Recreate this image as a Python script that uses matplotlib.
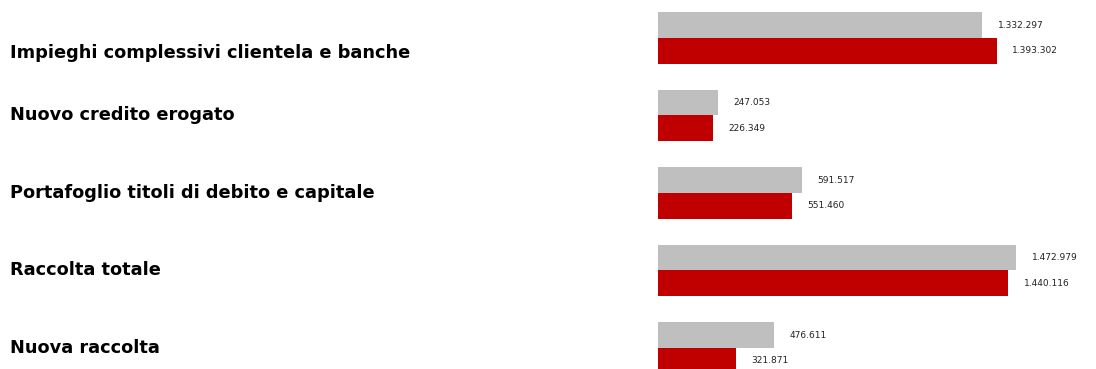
import matplotlib.pyplot as plt
import matplotlib.transforms as mtransforms

# Voci e valori (anno precedente in grigio, anno corrente in rosso)
voci = ['Impieghi complessivi clientela e banche',
        'Nuovo credito erogato',
        'Portafoglio titoli di debito e capitale',
        'Raccolta totale',
        'Nuova raccolta']
valori_prec = [1332297, 247053, 591517, 1472979, 476611]
valori_corr = [1393302, 226349, 551460, 1440116, 321871]

grigio = '#BFBFBF'
rosso = '#C00000'


def fmt_it(v):
    # separatore delle migliaia con il punto
    return f'{v:,}'.replace(',', '.')


fig = plt.figure(figsize=(10.96, 3.69), dpi=100)
ax = fig.add_axes([658 / 1096, -0.048, 438 / 1096, 1.05])

pos = list(range(len(voci)))
h = 0.33
ax.barh([p - h / 2 for p in pos], valori_prec, height=h, color=grigio)
ax.barh([p + h / 2 for p in pos], valori_corr, height=h, color=rosso)

for p, v in zip(pos, valori_prec):
    ax.annotate(fmt_it(v), (v, p - h / 2), xytext=(11, 0), textcoords='offset points',
                va='center', ha='left', fontsize=6.5, color='#222222')
for p, v in zip(pos, valori_corr):
    ax.annotate(fmt_it(v), (v, p + h / 2), xytext=(11, 0), textcoords='offset points',
                va='center', ha='left', fontsize=6.5, color='#222222')

ax.set_xlim(0, 1.8e6)
ax.set_ylim(4.5, -0.5)
ax.axis('off')

# etichette delle voci a sinistra
trans = mtransforms.blended_transform_factory(fig.transFigure, ax.transData)
for i, (p, voce) in enumerate(zip(pos, voci)):
    t = trans
    if i == 0:
        t = trans + mtransforms.ScaledTranslation(0, -15 / 100, fig.dpi_scale_trans)
    ax.text(10 / 1096, p, voce, transform=t, va='center', ha='left',
            fontsize=12.8, fontweight='bold', color='black')

fig.savefig('out.png', dpi=100)
